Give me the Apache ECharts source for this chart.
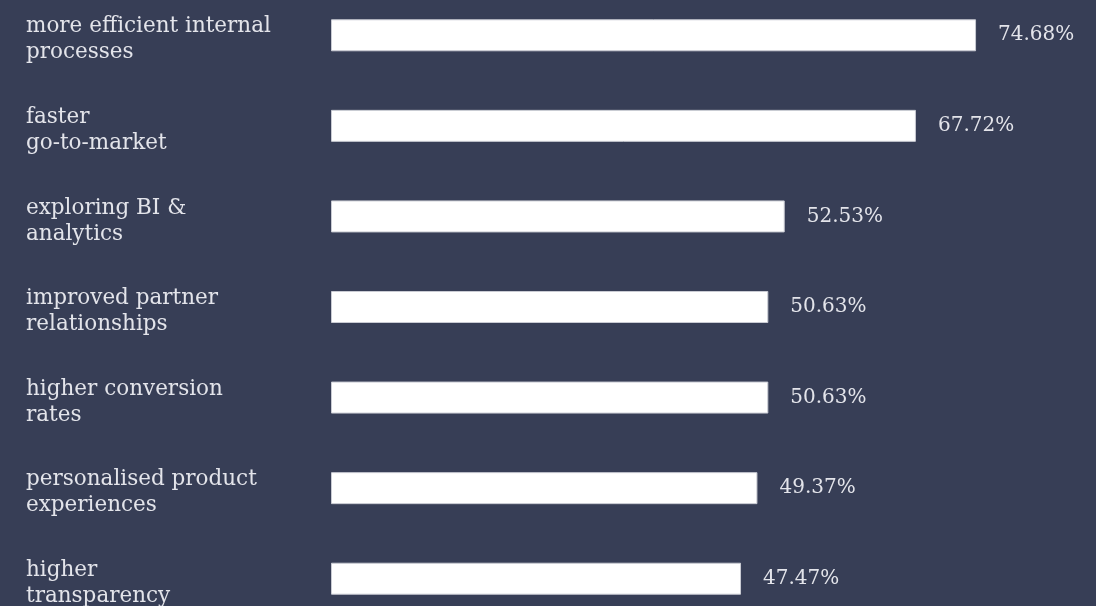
<!DOCTYPE html>
<html><head><meta charset="utf-8">
<script src="https://cdn.jsdelivr.net/npm/echarts@6/dist/echarts.min.js"></script>
<style>html,body{margin:0;padding:0;background:#373e56;width:1096px;height:606px;overflow:hidden;position:relative;}#c{position:absolute;left:0;top:-10px;width:1096px;height:634px;}</style>
</head><body><div id="c"></div>
<script>
const categories = [
  "more efficient internal\nprocesses",
  "faster\ngo-to-market",
  "exploring BI &\nanalytics",
  "improved partner\nrelationships",
  "higher conversion\nrates",
  "personalised product\nexperiences",
  "higher\ntransparency"
];
const values = [74.68, 67.72, 52.53, 50.63, 50.63, 49.37, 47.47];

const FONT = "'DejaVu Serif', serif";
const chart = echarts.init(document.getElementById('c'));
chart.setOption({
  backgroundColor: '#373e56',
  animation: false,
  grid: { left: 331, right: 74, top: 0, bottom: 0, containLabel: false },
  xAxis: { type: 'value', min: 0, max: 80, show: false },
  yAxis: {
    type: 'category', data: categories, inverse: true,
    axisLine: { show: false }, axisTick: { show: false }, splitLine: { show: false },
    axisLabel: {
      align: 'left', margin: 305, color: '#e3e4ea', fontFamily: FONT, fontSize: 21.5, fontWeight: 300, lineHeight: 26,
      formatter: v => '{s| }\n' + v.split('\n').map(s => '{a|' + s + '}').join('\n'),
      rich: {
        s: { fontSize: 4, lineHeight: 9 },
        a: { color: '#e3e4ea', fontFamily: FONT, fontSize: 21.5, fontWeight: 300, lineHeight: 26 }
      }
    }
  },
  series: [{
    type: 'bar', data: values, barWidth: 32,
    itemStyle: { color: '#ffffff', borderColor: '#c9cbd3', borderWidth: 1 },
    label: { show: true, position: 'right', distance: 22, formatter: p => p.value.toFixed(2) + '%', color: '#e3e4ea', fontFamily: FONT, fontSize: 20, fontWeight: 300 }
  }]
});
</script></body></html>
